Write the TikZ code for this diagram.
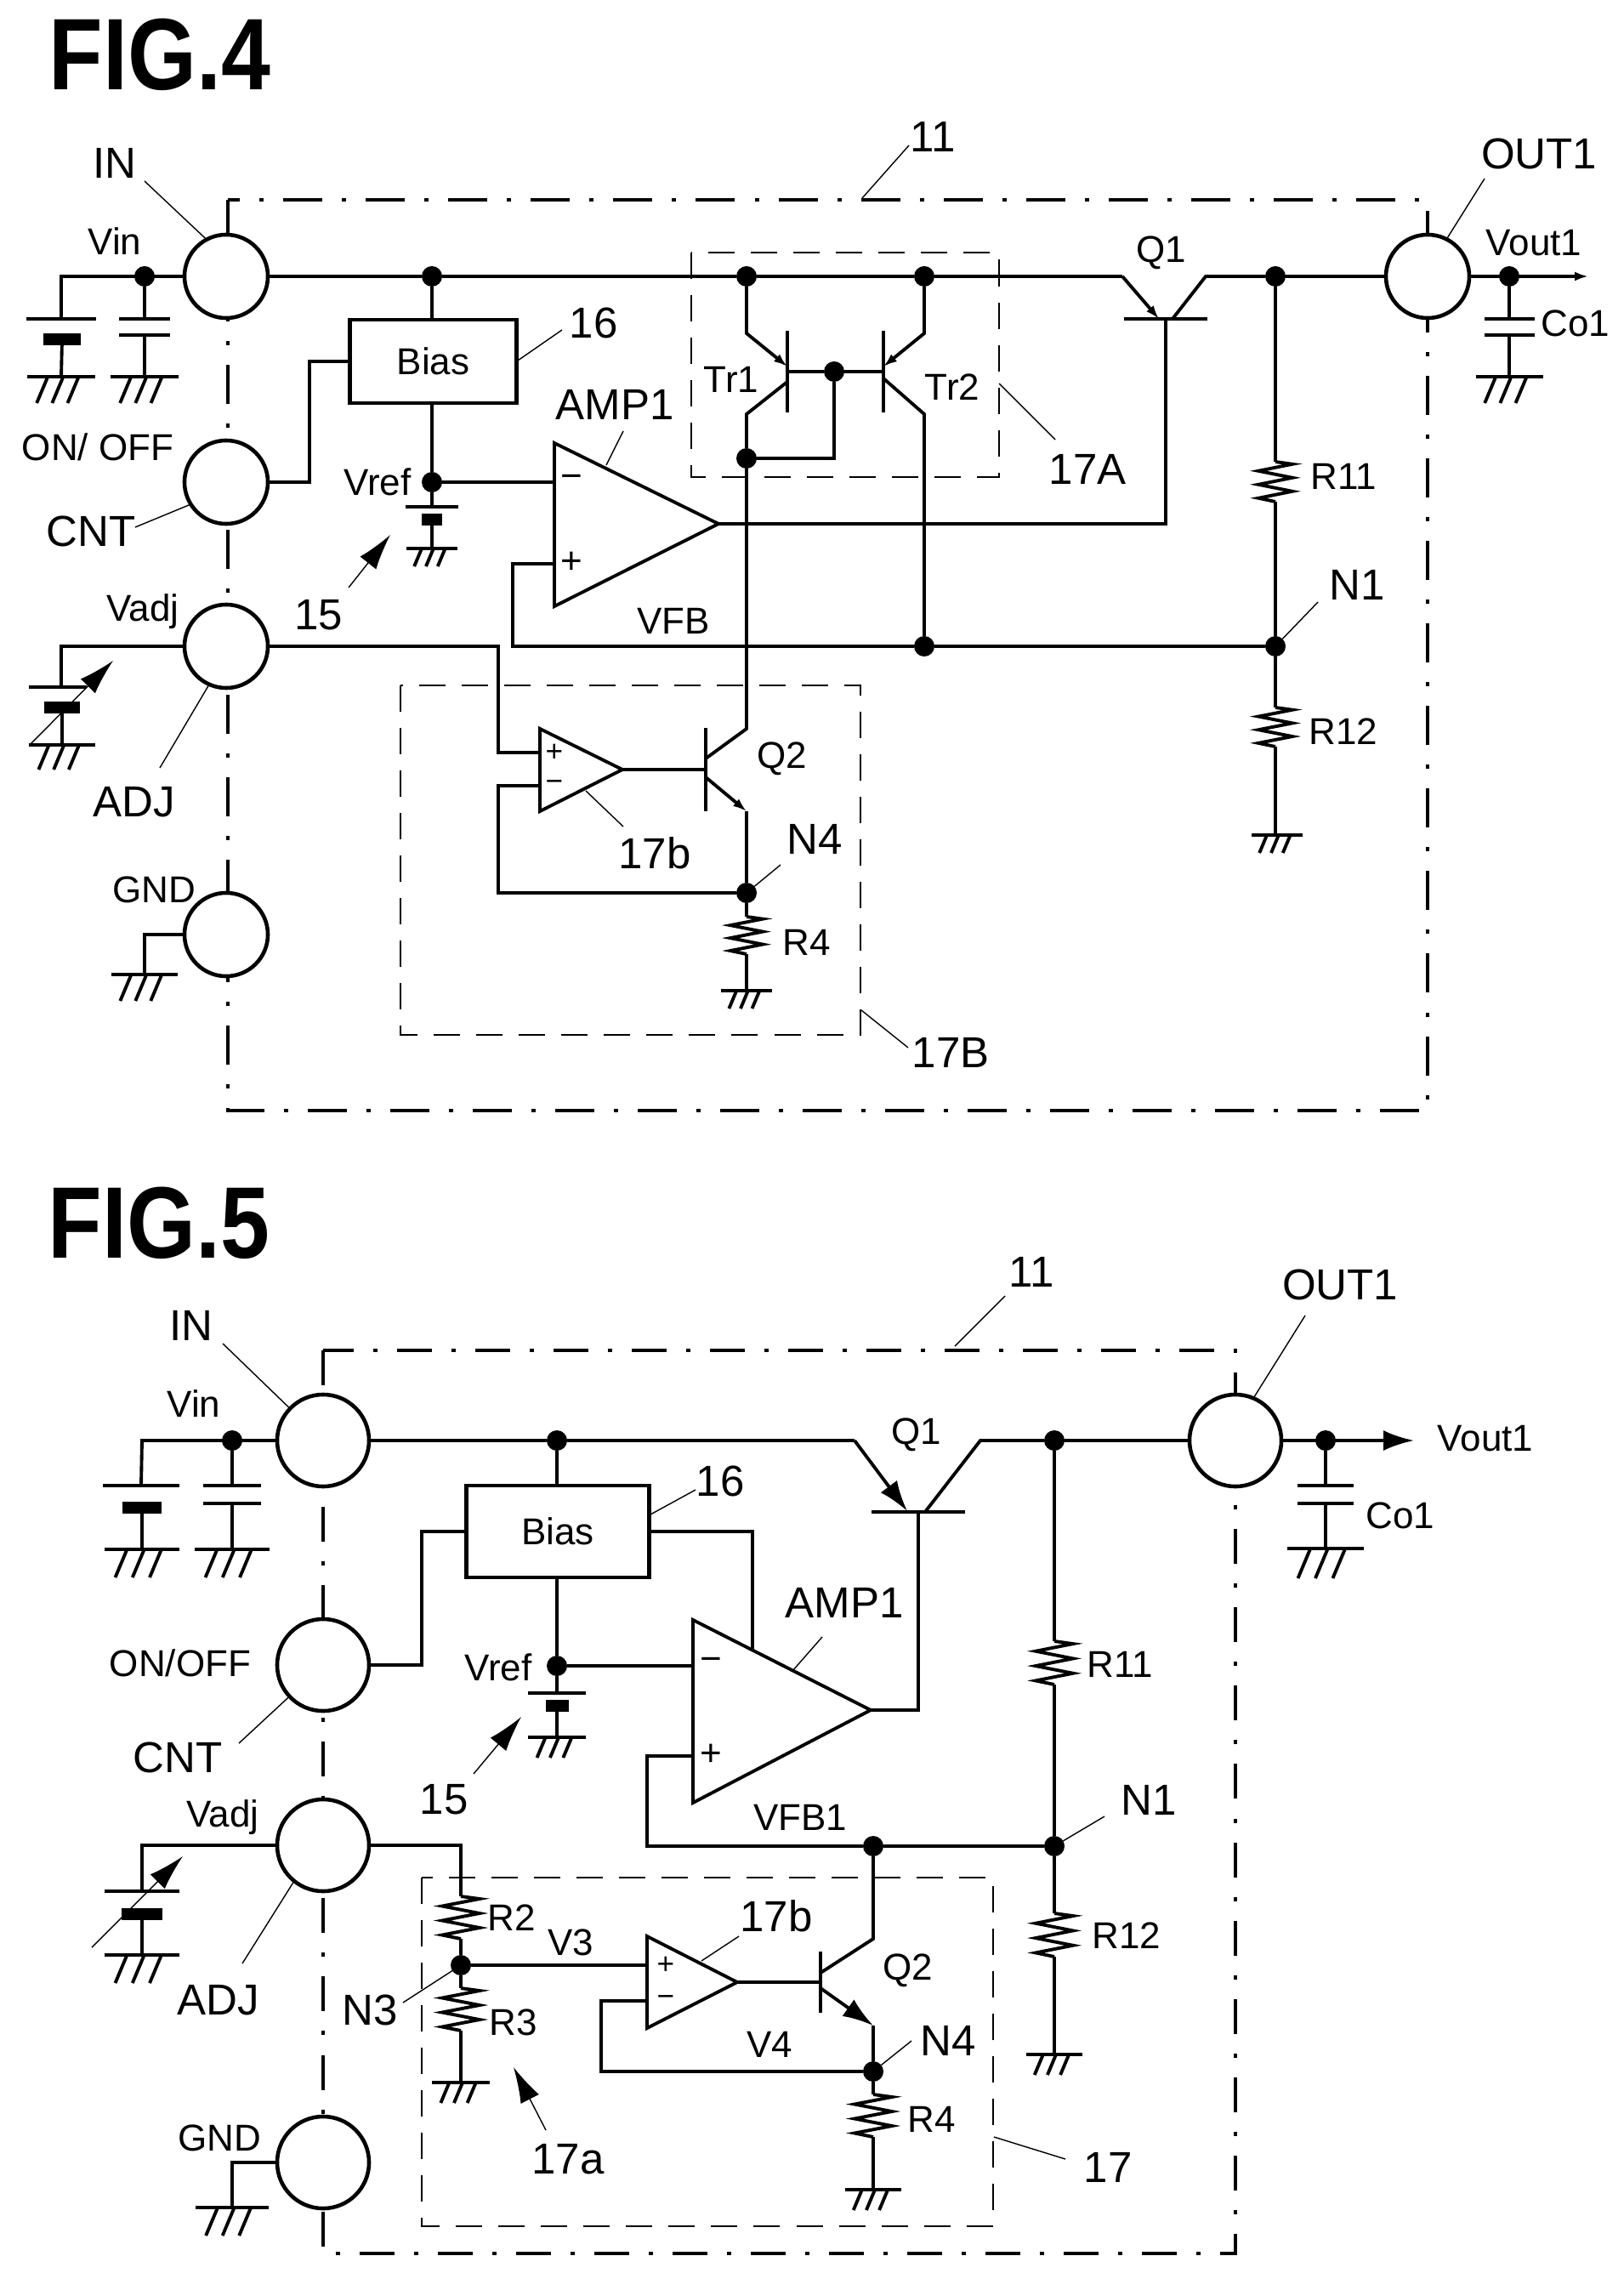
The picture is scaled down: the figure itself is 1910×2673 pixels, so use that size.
\documentclass[tikz,border=0pt]{standalone}
\usepackage{fontspec}
\setmainfont{Liberation Sans}
\newfontfamily\figfont[UprightFont=* Bold,FakeStretch=.87]{Liberation Sans}
\usetikzlibrary{arrows.meta,calc}
\newcommand{\earth}[4]{
\node[plate,minimum width=#3cm] (#1) at (#2) {};
\foreach \dx in {-.4,.06,.52}
\draw[wire] ($(#1)+(\dx*#3*50,0)$) -- ++(-.42*#4,#4);
}
\newcommand{\resistor}[5]{
\coordinate (#1a) at (#2,#3);
\coordinate (#1b) at (#2,#3+#4);
\draw[wire] (#1a) -- ++(#5,.06*#4) -- ++(-2*#5,.17*#4) -- ++(2*#5,.17*#4) -- ++(-2*#5,.17*#4) -- ++(2*#5,.17*#4) -- ++(-2*#5,.17*#4) -- (#1b);
}
\begin{document}
\begin{tikzpicture}
[x=.01cm,y=-.01cm,
wire/.style={line width=1.1pt},
bound/.style={line width=1.4pt,dash pattern=on #1cm off .23cm on .05cm off .23cm},
dashbox/.style={line width=.8pt,dash pattern=on .31cm off .19cm},
term/.style={circle,draw,fill=white,line width=1.3pt,inner sep=0,outer sep=0,minimum size=#1},
junc/.style={circle,fill=black,inner sep=0,outer sep=0,minimum size=.24cm},
plate/.style={fill=black,inner sep=0,outer sep=0,minimum height=.04cm},
bat/.style={plate,minimum height=.14cm},
vbar/.style={fill=black,inner sep=0,outer sep=0,minimum width=.04cm},
biasbox/.style={draw,line width=1.2pt,inner sep=0,outer sep=0,sml},
lab/.style={inner sep=0,font=\fontsize{14.5}{14.5}\selectfont},
sml/.style={inner sep=0,font=\fontsize{12.5}{12.5}\selectfont},
sgn/.style={inner sep=0,font=\fontsize{10}{10}\selectfont},
figlab/.style={inner sep=0,font=\figfont\fontsize{34}{34}\selectfont},
lead/.style={line width=.4pt},
fat/.style={lead,-{Latex[length=.42cm,width=.24cm]}},
tiny/.style={wire,-{Latex[length=.16cm,width=.11cm]}},
big/.style={wire,-{Latex[length=.36cm,width=.24cm]}}]
\path[use as bounding box] (0,0) rectangle (1910,2673);
%
% FIG.4
\node[figlab] (fig4) at (188,64) {FIG.4};
\draw[bound=.46] (268,235) rectangle (1679,1306);
\draw[dashbox] (813,297) rectangle (1175,561);
\draw[dashbox] (471,806) rectangle (1012,1217);
\node[term=.98cm] (in4) at (266,325) {};
\node[term=.98cm] (cnt4) at (266,567) {};
\node[term=.98cm] (adj4) at (266,760) {};
\node[term=.98cm] (gnd4) at (266,1099) {};
\node[term=.98cm] (out4) at (1679,325) {};
\node[junc] (jvin4) at (170,325) {};
\node[junc] (jbias4) at (508,325) {};
\node[junc] (jt1e4) at (878,325) {};
\node[junc] (jt2e4) at (1087,325) {};
\node[junc] (jq1c4) at (1500,325) {};
\node[junc] (jvo4) at (1775,325) {};
\node[junc] (jvref4) at (508,567) {};
\node[junc] (jb4) at (981,437) {};
\node[junc] (jt1c4) at (878,539) {};
\node[junc] (jfb4) at (1087,760) {};
\node[junc] (n14) at (1500,760) {};
\node[junc] (n44) at (878,1050) {};
\node[biasbox,minimum width=1.96cm,minimum height=.985cm] (bias4) at (509.5,425) {Bias};
% input side
\coordinate (cvin4) at (72,325);
\node[plate,minimum width=.81cm] (c1a4) at (72,375) {};
\node[bat,minimum width=.43cm] (c1b4) at (73,399) {};
\earth{g14}{72,443}{.79}{31}
\node[plate,minimum width=.6cm] (c2a4) at (170,375) {};
\node[plate,minimum width=.6cm] (c2b4) at (170,394) {};
\earth{g24}{170,443}{.79}{31}
\draw[wire] (in4) -- (cvin4) -- (c1a4);
\draw[wire] (c1b4) -- (g14);
\draw[wire] (jvin4) -- (c2a4);
\draw[wire] (c2b4) -- (g24);
\draw[wire] (in4) -- (jbias4) -- (jt1e4) -- (jt2e4);
\draw[wire] (jbias4) -- (jbias4 |- bias4.north);
\coordinate (cb4) at (364,425);
\draw[wire] (cnt4) -| (cb4) -- (bias4);
\draw[wire] (jvref4 |- bias4.south) -- (jvref4);
\node[plate,minimum width=.61cm] (c3a4) at (508,596) {};
\node[bat,minimum width=.24cm] (c3b4) at (508,611) {};
\earth{g34}{508,645}{.6}{21}
\draw[wire] (jvref4) -- (c3a4);
\draw[wire] (c3b4) -- (g34);
% adj side
\coordinate (cadj4) at (72,760);
\node[plate,minimum width=.68cm] (c4a4) at (68,808) {};
\node[bat,minimum width=.42cm] (c4b4) at (73,832) {};
\earth{g44}{73,876}{.77}{29}
\draw[wire] (adj4) -- (cadj4) -- (cadj4 |- c4a4);
\draw[wire] (c4b4) -- (g44);
\coordinate (vara4) at (35,876);
\coordinate (varb4) at (133,777);
\draw[fat] (vara4) -- (varb4);
\coordinate (cgnd4) at (170,1099);
\earth{g54}{170,1146}{.78}{31}
\draw[wire] (gnd4) -- (cgnd4) -- (g54);
% AMP1
\coordinate (ampa4) at (652,521);
\coordinate (ampb4) at (652,713);
\coordinate (ampt4) at (845,616);
\coordinate (ampm4) at (652,567);
\coordinate (ampp4) at (652,663);
\coordinate (fb4) at (603,760);
\draw[wire] (ampa4) -- (ampb4) -- (ampt4) -- cycle;
\draw[wire] (jvref4) -- (ampm4);
\draw[wire] (ampp4) -| (fb4) -- (jfb4) -- (n14);
\node[sml] (am4) at (672,566) {−};
\node[sml] (ap4) at (672,662) {+};
% Tr1 and Tr2
\node[vbar,minimum height=.96cm] (t1b4) at (926,437) {};
\node[vbar,minimum height=.96cm] (t2b4) at (1039,437) {};
\coordinate (t1a4) at (878,392);
\coordinate (t1e4) at (926,431);
\coordinate (t1c4) at (926,449);
\coordinate (t1d4) at (878,487);
\coordinate (t2a4) at (1087,392);
\coordinate (t2e4) at (1039,431);
\coordinate (t2c4) at (1039,445);
\coordinate (t2d4) at (1087,487);
\coordinate (q2d4) at (878,857);
\coordinate (q2c4) at (830,892);
\coordinate (tb4) at (981,539);
\draw[tiny] (jt1e4) -- (t1a4) -- (t1e4);
\draw[tiny] (jt2e4) -- (t2a4) -- (t2e4);
\draw[wire] (t1c4) -- (t1d4) -- (jt1c4) -- (q2d4) -- (q2c4);
\draw[wire] (t2c4) -- (t2d4) -- (jfb4);
\draw[wire] (t1b4) -- (jb4) -- (t2b4);
\draw[wire] (jb4) -- (tb4) -- (jt1c4);
% Q1
\node[plate,minimum width=.98cm] (q1b4) at (1371,375) {};
\coordinate (q1a4) at (1320,325);
\coordinate (q1e4) at (1363,375);
\coordinate (q1c4) at (1379,375);
\coordinate (q1d4) at (1418,325);
\draw[wire] (jt2e4) -- (q1a4);
\draw[tiny] (q1a4) -- (q1e4);
\draw[wire] (q1c4) -- (q1d4) -- (jq1c4) -- (out4);
\draw[wire] (ampt4) -| (q1b4);
% output
\coordinate (vout4) at (1868,325);
\draw[tiny] (out4) -- (vout4);
\node[plate,minimum width=.59cm] (c5a4) at (1775,375) {};
\node[plate,minimum width=.59cm] (c5b4) at (1775,394) {};
\earth{g64}{1775,443}{.79}{31}
\draw[wire] (jvo4) -- (c5a4);
\draw[wire] (c5b4) -- (g64);
\resistor{r114}{1500}{543}{47}{20}
\resistor{r124}{1500}{832}{46}{20}
\earth{g74}{1502,982}{.6}{21}
\draw[wire] (jq1c4) -- (r114a);
\draw[wire] (r114b) -- (n14) -- (r124a);
\draw[wire] (r124b) -- (r124b |- g74);
% 17B
\coordinate (o1a4) at (635,857);
\coordinate (o1b4) at (635,954);
\coordinate (o1t4) at (732,905);
\coordinate (o1p4) at (635,885);
\coordinate (o1m4) at (635,924);
\coordinate (aw4) at (586,760);
\coordinate (ml4) at (586,1050);
\draw[wire] (o1a4) -- (o1b4) -- (o1t4) -- cycle;
\draw[wire] (adj4) -- (aw4) |- (o1p4);
\draw[wire] (o1m4) -| (ml4) -- (n44);
\node[sgn] (o1pl4) at (652,885) {+};
\node[sgn] (o1mi4) at (652,924) {−};
\node[vbar,minimum height=.97cm] (q2b4) at (830,905) {};
\coordinate (q2e4) at (830,914);
\coordinate (q2f4) at (878,954);
\draw[wire] (o1t4) -- (q2b4);
\draw[tiny] (q2e4) -- (q2f4);
\resistor{r44}{878}{1078}{44}{19}
\earth{g84}{878,1165}{.59}{21}
\draw[wire] (q2f4) -- (n44) -- (r44a);
\draw[wire] (r44b) -- (g84);
% labels
\node[lab] (lin4) at (135,192) {IN};
\node[sml] (lvin4) at (135,284) {Vin};
\node[sml] (lonoff4) at (115,526) {ON/ OFF};
\node[lab] (lcnt4) at (107,625) {CNT};
\node[sml] (lvadj4) at (168,719) {Vadj};
\node[lab] (ladj4) at (158,943) {ADJ};
\node[sml] (lgnd4) at (181,1046) {GND};
\node[sml] (lvref4) at (444,567) {Vref};
\node[lab] (l154) at (375,723) {15};
\node[lab] (l164) at (698,380) {16};
\node[lab] (lamp4) at (723,476) {AMP1};
\node[sml] (lvfb4) at (792,730) {VFB};
\node[sml] (ltr14) at (860,446) {Tr1};
\node[sml] (ltr24) at (1120,455) {Tr2};
\node[lab] (l17a4) at (1279,552) {17A};
\node[sml] (lq14) at (1366,297) {Q1};
\node[lab] (l114) at (1097,161) {11};
\node[lab] (lout4) at (1810,181) {OUT1};
\node[sml] (lvout4) at (1804,286) {Vout1};
\node[sml] (lco4) at (1853,380) {Co1};
\node[sml] (lr114) at (1580,560) {R11};
\node[lab] (ln14) at (1596,688) {N1};
\node[sml] (lr124) at (1580,860) {R12};
\node[sml] (lq24) at (920,892) {Q2};
\node[lab] (ln44) at (958,987) {N4};
\node[sml] (lr44) at (949,1108) {R4};
\node[lab] (l17b4) at (770,1003) {17b};
\node[lab] (l17B4) at (1118,1238) {17B};
% leaders
\coordinate (pin4) at (170,213);
\draw[lead] (pin4) -- (in4.118);
\coordinate (pcnt4) at (159,620);
\draw[lead] (pcnt4) -- (cnt4.212);
\coordinate (padj4) at (188,903);
\draw[lead] (padj4) -- (adj4.246);
\coordinate (p164) at (661,388);
\draw[lead] (p164) -- (bias4.east);
\coordinate (pamp4) at (733,507);
\coordinate (qamp4) at (713,547);
\draw[lead] (pamp4) -- (qamp4);
\coordinate (p154) at (410,691);
\coordinate (q154) at (459,629);
\draw[fat] (p154) -- (q154);
\coordinate (p114) at (1069,171);
\coordinate (q114) at (1014,233);
\draw[lead] (p114) -- (q114);
\coordinate (pout4) at (1746,210);
\draw[lead] (pout4) -- (out4.63);
\coordinate (p17a4) at (1175,451);
\coordinate (q17a4) at (1241,517);
\draw[lead] (p17a4) -- (q17a4);
\coordinate (pn14) at (1550,708);
\draw[lead] (pn14) -- (n14);
\coordinate (p17b4) at (733,972);
\coordinate (q17b4) at (689,930);
\draw[lead] (p17b4) -- (q17b4);
\coordinate (pn44) at (918,1017);
\draw[lead] (pn44) -- (n44);
\coordinate (p17B4) at (1013,1188);
\coordinate (q17B4) at (1068,1232);
\draw[lead] (p17B4) -- (q17B4);
%
% FIG.5
\node[figlab] (fig5) at (187,1438) {FIG.5};
\draw[bound=.41] (380,1588) rectangle (1453,2650);
\draw[dashbox] (496,2208) rectangle (1168,2618);
\node[term=1.08cm] (in5) at (380,1694) {};
\node[term=1.08cm] (cnt5) at (380,1958) {};
\node[term=1.08cm] (adj5) at (380,2170) {};
\node[term=1.08cm] (gnd5) at (380,2543) {};
\node[term=1.08cm] (out5) at (1453,1694) {};
\node[junc] (jvin5) at (273,1694) {};
\node[junc] (jbias5) at (655,1694) {};
\node[junc] (jq1c5) at (1240,1694) {};
\node[junc] (jvo5) at (1559,1694) {};
\node[junc] (jvref5) at (655,1959) {};
\node[junc] (jfb5) at (1027,2171) {};
\node[junc] (n15) at (1240,2171) {};
\node[junc] (n35) at (542,2311) {};
\node[junc] (n45) at (1027,2436) {};
\node[biasbox,minimum width=2.15cm,minimum height=1.075cm] (bias5) at (656,1801) {Bias};
% input side
\coordinate (cvin5) at (167,1694);
\node[plate,minimum width=.89cm] (c1a5) at (166,1747) {};
\node[bat,minimum width=.46cm] (c1b5) at (167,1773) {};
\earth{g15}{167,1822}{.88}{33}
\node[plate,minimum width=.67cm] (c2a5) at (273,1747) {};
\node[plate,minimum width=.67cm] (c2b5) at (273,1768) {};
\earth{g25}{273,1822}{.88}{33}
\draw[wire] (in5) -- (cvin5) -- (c1a5);
\draw[wire] (c1b5) -- (g15);
\draw[wire] (jvin5) -- (c2a5);
\draw[wire] (c2b5) -- (g25);
\draw[wire] (in5) -- (jbias5);
\draw[wire] (jbias5) -- (jbias5 |- bias5.north);
\coordinate (cb5) at (496,1801);
\draw[wire] (cnt5) -| (cb5) -- (bias5);
\draw[wire] (jvref5 |- bias5.south) -- (jvref5);
\node[plate,minimum width=.67cm] (c3a5) at (655,1991) {};
\node[bat,minimum width=.27cm] (c3b5) at (655,2006) {};
\earth{g35}{655,2043}{.67}{24}
\draw[wire] (jvref5) -- (c3a5);
\draw[wire] (c3b5) -- (g35);
% adj side
\coordinate (cadj5) at (167,2170);
\node[plate,minimum width=.88cm] (c4a5) at (167,2224) {};
\node[bat,minimum width=.47cm] (c4b5) at (167,2251) {};
\earth{g45}{167,2299}{.88}{33}
\draw[wire] (adj5) -- (cadj5) -- (c4a5);
\draw[wire] (c4b5) -- (g45);
\coordinate (vara5) at (108,2290);
\coordinate (varb5) at (215,2183);
\draw[fat] (vara5) -- (varb5);
\coordinate (cgnd5) at (273,2543);
\earth{g55}{273,2596}{.85}{33}
\draw[wire] (gnd5) -- (cgnd5) -- (g55);
% AMP1
\coordinate (ampa5) at (815,1905);
\coordinate (ampb5) at (815,2120);
\coordinate (ampt5) at (1024,2011);
\coordinate (ampm5) at (815,1959);
\coordinate (ampp5) at (815,2065);
\coordinate (fb5) at (761,2171);
\coordinate (ampe5) at (885,1941);
\draw[wire] (ampa5) -- (ampb5) -- (ampt5) -- cycle;
\draw[wire] (jvref5) -- (ampm5);
\draw[wire] (bias5) -| (ampe5);
\draw[wire] (ampp5) -| (fb5) -- (jfb5) -- (n15);
\node[sml] (am5) at (836,1957) {−};
\node[sml] (ap5) at (836,2064) {+};
% Q1
\node[plate,minimum width=1.1cm] (q1b5) at (1080,1778) {};
\coordinate (q1a5) at (1005,1694);
\coordinate (q1e5) at (1067,1777);
\coordinate (q1c5) at (1088,1778);
\coordinate (q1d5) at (1153,1694);
\draw[wire] (jbias5) -- (q1a5);
\draw[big] (q1a5) -- (q1e5);
\draw[wire] (q1c5) -- (q1d5) -- (jq1c5) -- (out5);
\draw[wire] (ampt5) -| (q1b5);
% output
\coordinate (vout5) at (1663,1694);
\draw[big] (out5) -- (vout5);
\node[plate,minimum width=.66cm] (c5a5) at (1559,1747) {};
\node[plate,minimum width=.66cm] (c5b5) at (1559,1768) {};
\earth{g65}{1559,1821}{.89}{35}
\draw[wire] (jvo5) -- (c5a5);
\draw[wire] (c5b5) -- (g65);
\resistor{r115}{1240}{1930}{51}{22}
\resistor{r125}{1240}{2250}{51}{22}
\earth{g75}{1240,2416}{.66}{24}
\draw[wire] (jq1c5) -- (r115a);
\draw[wire] (r115b) -- (n15) -- (r125a);
\draw[wire] (r125b) -- (g75);
% 17
\coordinate (adjc5) at (542,2170);
\resistor{r25}{542}{2230}{50}{22}
\resistor{r35}{542}{2338}{50}{22}
\earth{g85}{542,2449}{.68}{24}
\draw[wire] (adj5) -- (adjc5) -- (r25a);
\draw[wire] (r25b) -- (n35) -- (r35a);
\draw[wire] (r35b) -- (g85);
\coordinate (o1a5) at (761,2277);
\coordinate (o1b5) at (761,2385);
\coordinate (o1t5) at (867,2331);
\coordinate (o1p5) at (761,2311);
\coordinate (o1m5) at (761,2353);
\coordinate (ml5) at (707,2436);
\draw[wire] (o1a5) -- (o1b5) -- (o1t5) -- cycle;
\draw[wire] (n35) -- (o1p5);
\draw[wire] (o1m5) -| (ml5) -- (n45);
\node[sgn] (o1pl5) at (783,2311) {+};
\node[sgn] (o1mi5) at (783,2353) {−};
\node[vbar,minimum height=.72cm] (q2b5) at (965,2331) {};
\coordinate (q2d5) at (1027,2280);
\coordinate (q2c5) at (965,2320);
\coordinate (q2e5) at (965,2338);
\coordinate (q2f5) at (1027,2382);
\draw[wire] (o1t5) -- (q2b5);
\draw[wire] (jfb5) -- (q2d5) -- (q2c5);
\draw[big] (q2e5) -- (q2f5);
\resistor{r45}{1027}{2463}{50}{22}
\earth{g95}{1027,2575}{.66}{24}
\draw[wire] (q2f5) -- (n45) -- (r45a);
\draw[wire] (r45b) -- (g95);
% labels
\node[lab] (lin5) at (225,1559) {IN};
\node[sml] (lvin5) at (228,1651) {Vin};
\node[sml] (lonoff5) at (212,1956) {ON/OFF};
\node[lab] (lcnt5) at (209,2067) {CNT};
\node[sml] (lvadj5) at (262,2137) {Vadj};
\node[lab] (ladj5) at (257,2352) {ADJ};
\node[sml] (lgnd5) at (258,2514) {GND};
\node[sml] (lvref5) at (586,1961) {Vref};
\node[lab] (l155) at (522,2116) {15};
\node[lab] (l165) at (847,1742) {16};
\node[lab] (lamp5) at (993,1885) {AMP1};
\node[sml] (lvfb5) at (941,2137) {VFB1};
\node[sml] (lq15) at (1078,1687) {Q1};
\node[lab] (l115) at (1213,1496) {11};
\node[lab] (lout5) at (1576,1511) {OUT1};
\node[sml] (lvout5) at (1747,1692) {Vout1};
\node[sml] (lco5) at (1647,1782) {Co1};
\node[sml] (lr115) at (1317,1957) {R11};
\node[lab] (ln15) at (1351,2117) {N1};
\node[sml] (lr125) at (1325,2276) {R12};
\node[sml] (lr25) at (602,2255) {R2};
\node[sml] (lr35) at (604,2378) {R3};
\node[sml] (lv35) at (671,2284) {V3};
\node[lab] (ln35) at (435,2364) {N3};
\node[sml] (lv45) at (905,2404) {V4};
\node[sml] (lq25) at (1068,2317) {Q2};
\node[lab] (ln45) at (1115,2400) {N4};
\node[sml] (lr45) at (1096,2492) {R4};
\node[lab] (l17b5) at (913,2253) {17b};
\node[lab] (l17a5) at (668,2539) {17a};
\node[lab] (l175) at (1303,2549) {17};
% leaders
\coordinate (pin5) at (262,1580);
\draw[lead] (pin5) -- (in5.136);
\coordinate (pcnt5) at (281,2050);
\draw[lead] (pcnt5) -- (cnt5.223);
\coordinate (padj5) at (285,2309);
\draw[lead] (padj5) -- (adj5.231);
\coordinate (p165) at (818,1752);
\coordinate (q165) at (765,1781);
\draw[lead] (p165) -- (q165);
\coordinate (pamp5) at (967,1925);
\coordinate (qamp5) at (932,1965);
\draw[lead] (pamp5) -- (qamp5);
\coordinate (p155) at (557,2086);
\coordinate (q155) at (613,2019);
\draw[fat] (p155) -- (q155);
\coordinate (p115) at (1182,1524);
\coordinate (q115) at (1123,1583);
\draw[lead] (p115) -- (q115);
\coordinate (pout5) at (1535,1547);
\draw[lead] (pout5) -- (out5.67);
\coordinate (pn15) at (1299,2136);
\draw[lead] (pn15) -- (n15);
\coordinate (pn35) at (474,2355);
\draw[lead] (pn35) -- (n35);
\coordinate (p17b5) at (869,2277);
\coordinate (q17b5) at (825,2306);
\draw[lead] (p17b5) -- (q17b5);
\coordinate (pn45) at (1072,2400);
\draw[lead] (pn45) -- (n45);
\coordinate (p17a5) at (642,2505);
\coordinate (q17a5) at (604,2431);
\draw[fat] (p17a5) -- (q17a5);
\coordinate (p175) at (1169,2513);
\coordinate (q175) at (1253,2539);
\draw[lead] (p175) -- (q175);
\end{tikzpicture}
\end{document}
